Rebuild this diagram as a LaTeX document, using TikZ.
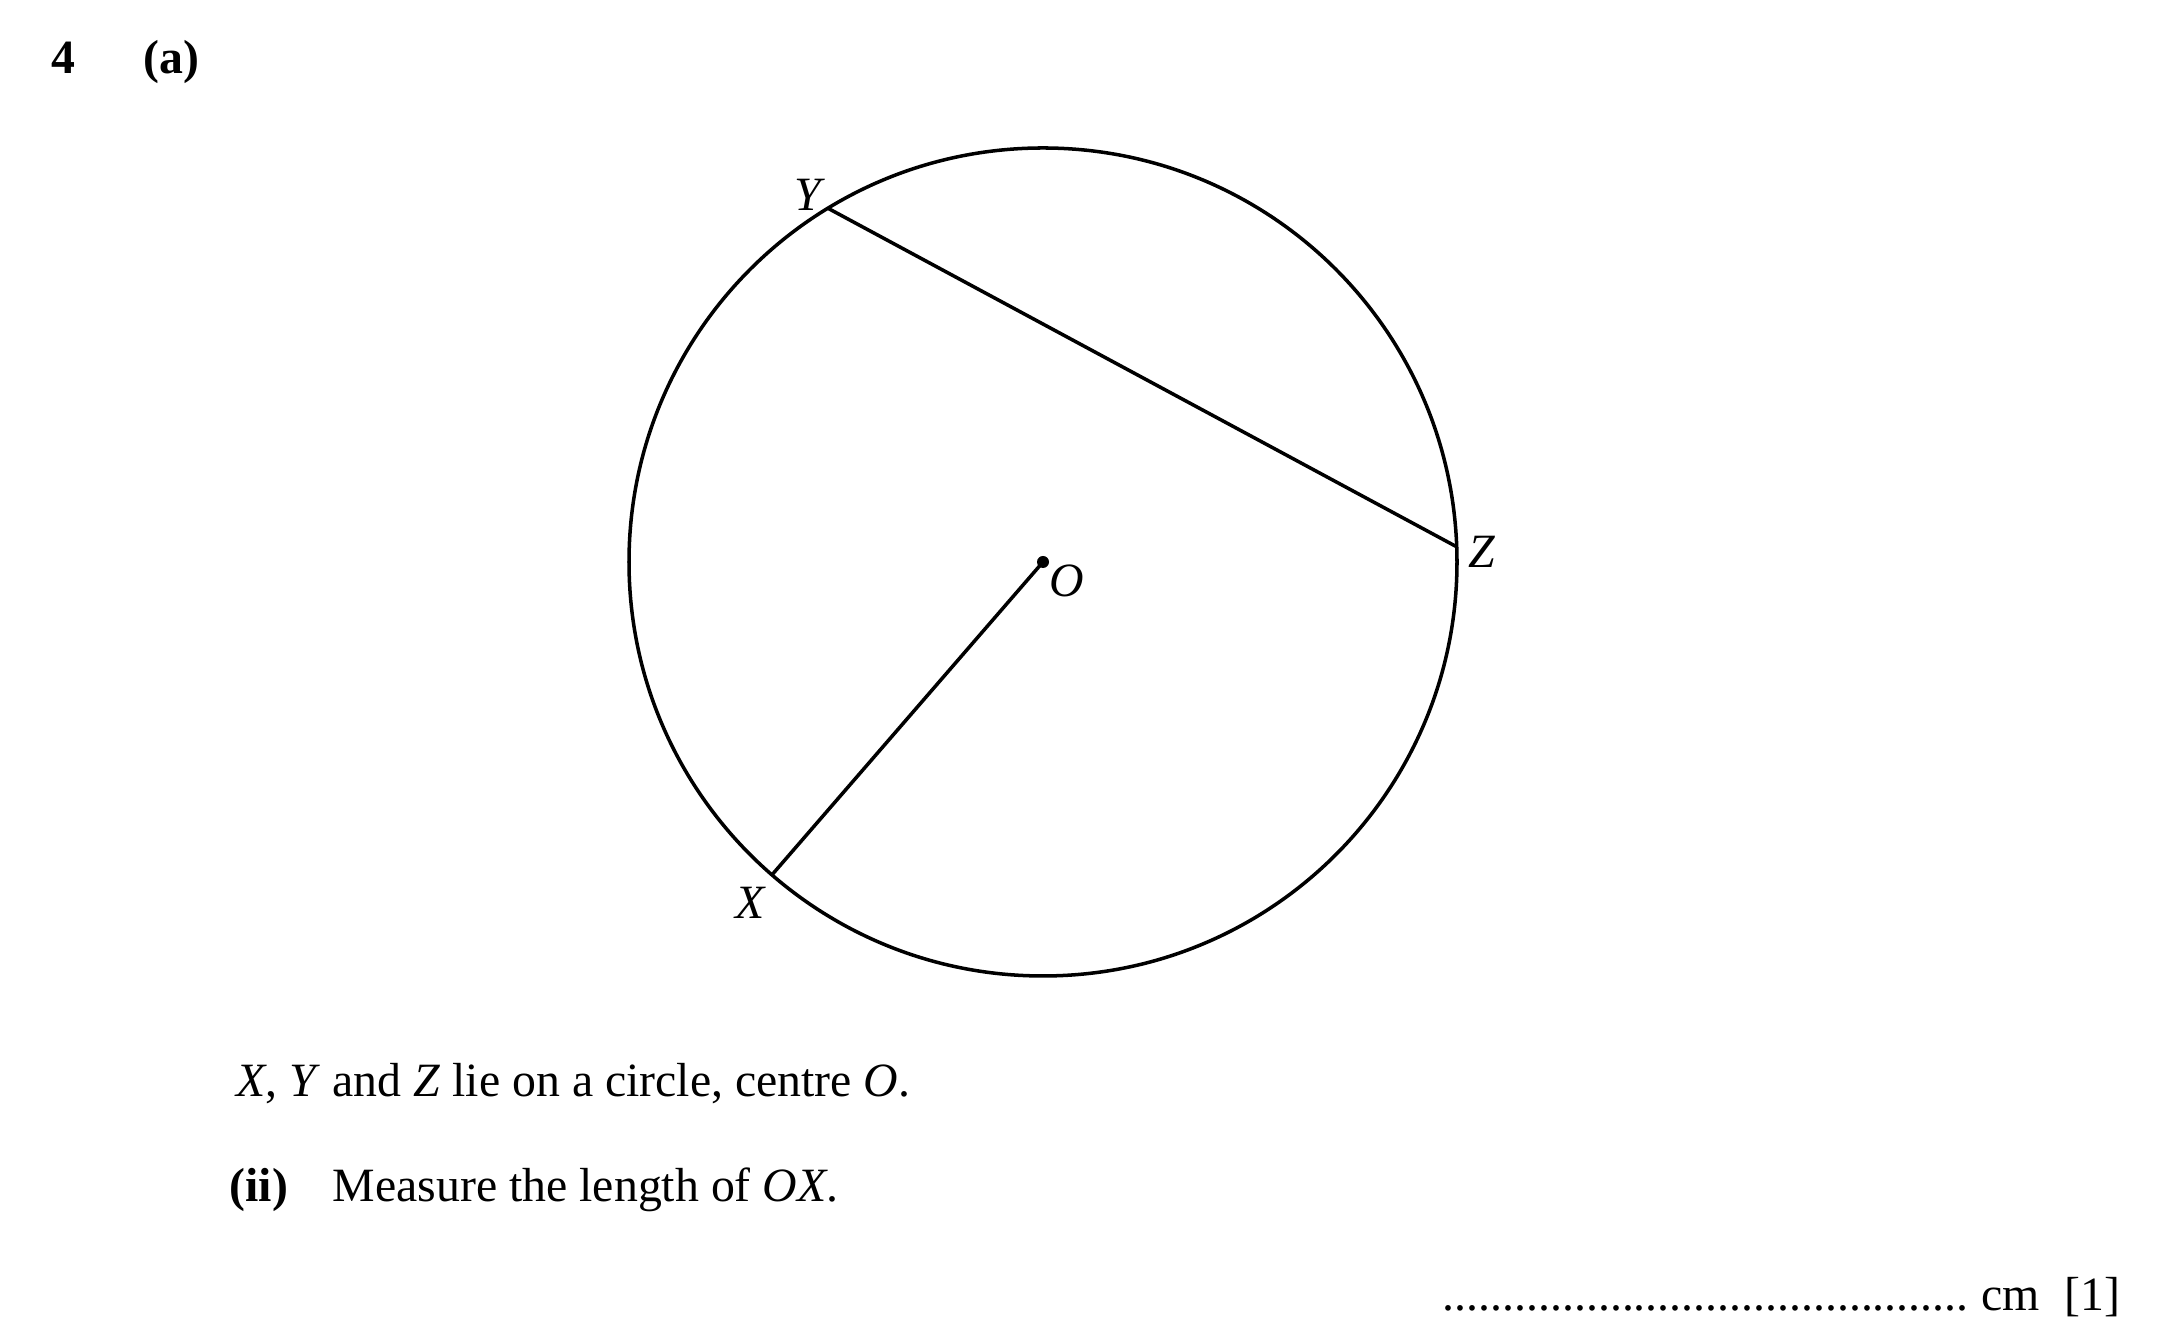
\documentclass[tikz,border=0pt]{standalone}
\usepackage{fontspec}
\setmainfont{Liberation Serif}
\usetikzlibrary{calc}

\tikzset{
    txt/.style={anchor=base west, inner sep=0pt},
    bold/.style={txt, font=\fontsize{13.6}{16}\selectfont\bfseries}
}

\begin{document}
\begin{tikzpicture}[line cap=round, line width=1pt, font=\fontsize{13.6}{16}\selectfont]

    \useasboundingbox (0,0) rectangle (21.67,13.43);

    % circle and its points
    \coordinate (O) at (10.43, 7.81);
    \draw (O) circle (4.14);
    \coordinate (X) at ($(O)+(229.1:4.14)$);
    \coordinate (Y) at ($(O)+(121.3:4.14)$);
    \coordinate (Z) at ($(O)+(2.1:4.14)$);

    \draw (Y) -- (Z);
    \draw (O) -- (X);
    \fill (O) circle (0.06);

    \node (labO) at (10.67, 7.62) {\textit{O}};
    \node (labX) at (7.51, 4.40) {\textit{X}};
    \node (labY) at (8.10, 11.48) {\textit{Y}};
    \node (labZ) at (14.82, 7.91) {\textit{Z}};

    % question text
    \node [bold] (num) at (0.50, 12.69) {4};
    \node [bold] (part) at (1.42, 12.69) {(a)};
    \node [txt] (stem) at (2.35, 2.46) {\textit{X}, \textit{Y} and \textit{Z} lie on a circle, centre \textit{O}.};
    \node [bold] (sub) at (2.28, 1.41) {(ii)};
    \node [txt] (task) at (3.31, 1.41) {Measure the length of \textit{OX}.};

    % answer line
    \node [txt] (dots) at (14.41, 0.32) {............................................};
    \node [txt] (unit) at (19.80, 0.32) {cm};
    \node [txt] (mark) at (20.63, 0.32) {[1]};

\end{tikzpicture}
\end{document}
